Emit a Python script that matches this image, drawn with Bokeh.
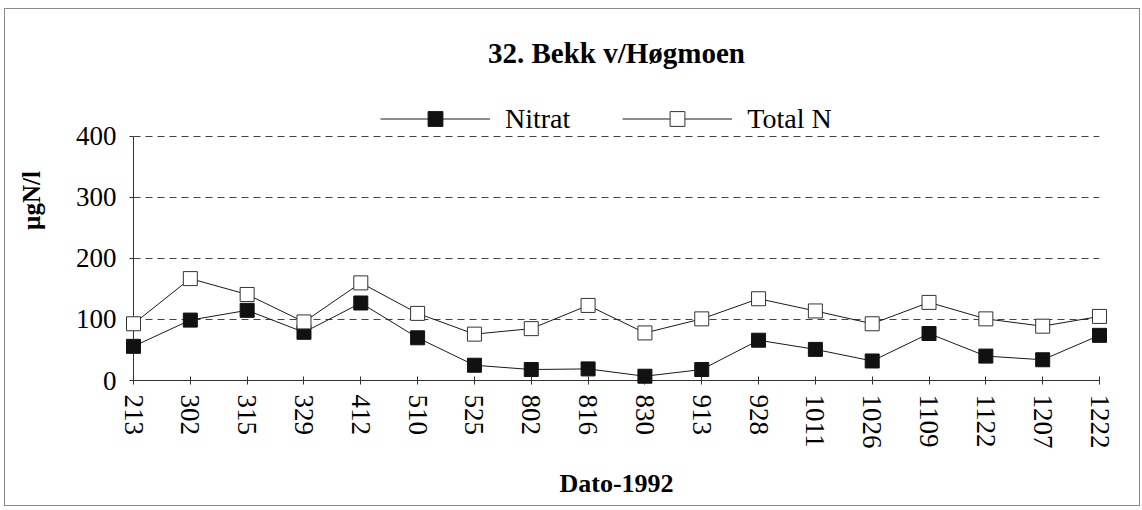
from bokeh.plotting import figure
from bokeh.models import Range1d, FixedTicker, Label, Legend, LegendItem
from bokeh.embed import file_html
from bokeh.resources import INLINE

# ---- data ----
dates = ["213", "302", "315", "329", "412", "510", "525", "802", "816",
         "830", "913", "928", "1011", "1026", "1109", "1122", "1207", "1222"]
nitrat = [56, 99, 115, 79, 127, 70, 25, 18, 19, 7, 18, 66, 51, 32, 77, 40, 34, 74]
total_n = [93, 167, 141, 96, 160, 110, 76, 85, 123, 78, 101, 134, 114, 93, 128, 101, 89, 105]
y_ticks = [0, 100, 200, 300, 400]
title_text = "32. Bekk v/Høgmoen"
x_label = "Dato-1992"
y_label = "µgN/l"

FONT = "Liberation Serif"
xs = list(range(len(dates)))
Y_TOP = 590  # frame extends above the axis so that title and legend sit inside it

p = figure(width=1136, height=498, output_backend="svg", toolbar_location=None,
           x_range=Range1d(0, len(dates) - 1), y_range=Range1d(y_ticks[0], Y_TOP),
           min_border_left=128, min_border_right=42, min_border_top=11, min_border_bottom=127,
           title=None)
p.styles = {"border": "1px solid #8a8a8a", "margin-left": "4px", "margin-top": "8px"}
p.outline_line_color = None
p.background_fill_color = "white"
p.border_fill_color = "white"

# grid
p.xgrid.visible = False
p.ygrid.ticker = FixedTicker(ticks=y_ticks[1:])
p.ygrid.grid_line_color = "#444444"
p.ygrid.grid_line_dash = "7 5"
p.ygrid.grid_line_width = 1

# axes
yax = p.yaxis[0]
yax.ticker = FixedTicker(ticks=y_ticks)
yax.bounds = (y_ticks[0], y_ticks[-1])
yax.axis_line_color = "#333333"
yax.major_tick_line_color = "#333333"
yax.major_tick_out = 4
yax.major_tick_in = 0
yax.minor_tick_line_color = None
yax.major_label_text_font = FONT
yax.major_label_text_font_size = "27px"
yax.major_label_text_color = "black"
yax.major_label_standoff = 13
yax.axis_label = y_label
yax.axis_label_text_font = FONT
yax.axis_label_text_font_style = "bold"
yax.axis_label_text_font_size = "25px"
yax.axis_label_text_color = "black"
yax.axis_label_standoff = 28

xax = p.xaxis[0]
xax.ticker = FixedTicker(ticks=xs)
xax.major_label_overrides = {i: d for i, d in enumerate(dates)}
xax.major_label_orientation = "vertical"
xax.axis_line_color = "#333333"
xax.major_tick_line_color = "#333333"
xax.major_tick_out = 4
xax.major_tick_in = 4
xax.minor_tick_line_color = None
xax.major_label_text_font = FONT
xax.major_label_text_font_size = "27px"
xax.major_label_text_color = "black"
xax.major_label_standoff = 10
xax.axis_label = x_label
xax.axis_label_text_font = FONT
xax.axis_label_text_font_style = "bold"
xax.axis_label_text_font_size = "26px"
xax.axis_label_text_color = "black"
xax.axis_label_standoff = 17

# series
ln_n = p.line(xs, nitrat, line_color="#1a1a1a", line_width=1, level="overlay")
sc_n = p.scatter(xs, nitrat, marker="square", size=14, fill_color="#111111",
                 line_color="#111111", line_width=1, level="overlay")
ln_t = p.line(xs, total_n, line_color="#1a1a1a", line_width=1, level="overlay")
sc_t = p.scatter(xs, total_n, marker="square", size=14, fill_color="white",
                 line_color="#333333", line_width=1, level="overlay")

legend = Legend(items=[LegendItem(label="Nitrat", renderers=[ln_n, sc_n]),
                       LegendItem(label="Total N", renderers=[ln_t, sc_t])],
                orientation="horizontal", location=(247, 243),
                glyph_width=110, glyph_height=37, label_height=37,
                label_standoff=15, spacing=52, padding=0, margin=0,
                border_line_color=None, background_fill_alpha=0,
                label_text_font=FONT, label_text_font_size="28px",
                label_text_color="black")
p.add_layout(legend, "center")

title = Label(x=(len(dates) - 1) / 2, y=537, text=title_text, text_align="center",
              text_baseline="middle", text_font=FONT, text_font_size="29px",
              text_font_style="bold", text_color="black")
p.add_layout(title)

open("out.html", "w").write(file_html(p, INLINE))
